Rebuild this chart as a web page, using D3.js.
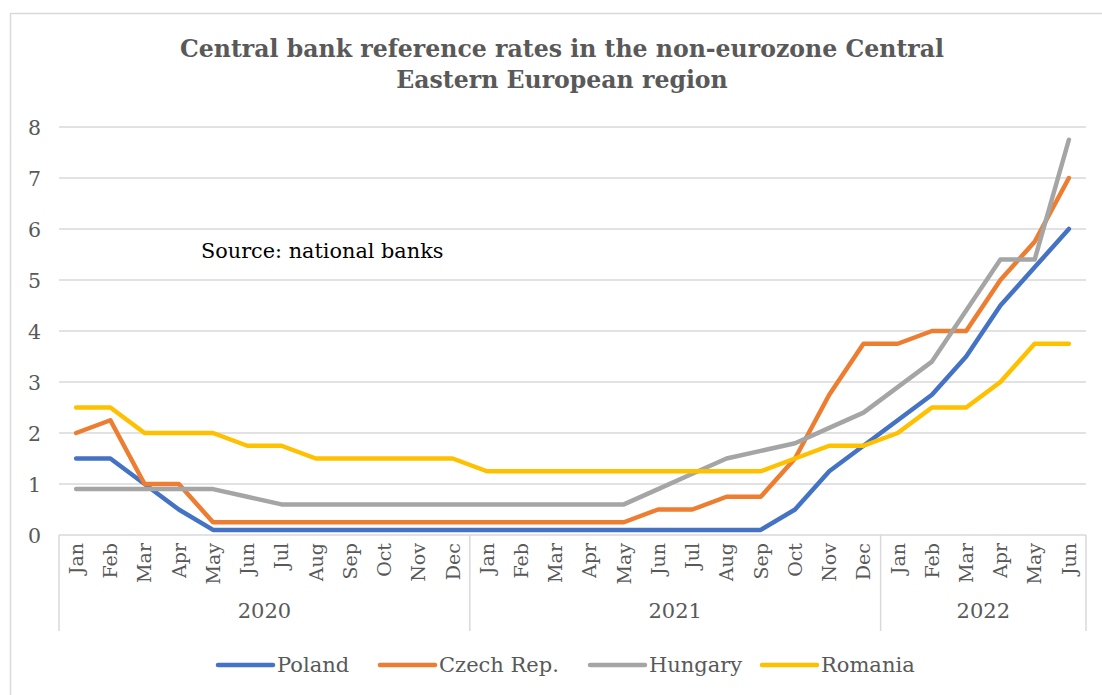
<!DOCTYPE html>
<html>
<head>
<meta charset="utf-8">
<script src="https://cdn.jsdelivr.net/npm/d3@7/dist/d3.min.js"></script>
<style>
  html, body { margin: 0; padding: 0; background: #fff; }
  svg { display: block; }
</style>
</head>
<body>
<div id="chart"></div>
<script>
// Monthly reference rates (%), Jan 2020 – Jun 2022
const months = ["Jan","Feb","Mar","Apr","May","Jun","Jul","Aug","Sep","Oct","Nov","Dec",
                "Jan","Feb","Mar","Apr","May","Jun","Jul","Aug","Sep","Oct","Nov","Dec",
                "Jan","Feb","Mar","Apr","May","Jun"];
const years = ["2020", "2021", "2022"];
const yearSpans = [12, 12, 6];

const poland  = [1.5,1.5,1.0,0.5,0.1,0.1,0.1,0.1,0.1,0.1,0.1,0.1,
                 0.1,0.1,0.1,0.1,0.1,0.1,0.1,0.1,0.1,0.5,1.25,1.75,
                 2.25,2.75,3.5,4.5,5.25,6.0];
const czech   = [2.0,2.25,1.0,1.0,0.25,0.25,0.25,0.25,0.25,0.25,0.25,0.25,
                 0.25,0.25,0.25,0.25,0.25,0.5,0.5,0.75,0.75,1.5,2.75,3.75,
                 3.75,4.0,4.0,5.0,5.75,7.0];
const hungary = [0.9,0.9,0.9,0.9,0.9,0.75,0.6,0.6,0.6,0.6,0.6,0.6,
                 0.6,0.6,0.6,0.6,0.6,0.9,1.2,1.5,1.65,1.8,2.1,2.4,
                 2.9,3.4,4.4,5.4,5.4,7.75];
const romania = [2.5,2.5,2.0,2.0,2.0,1.75,1.75,1.5,1.5,1.5,1.5,1.5,
                 1.25,1.25,1.25,1.25,1.25,1.25,1.25,1.25,1.25,1.5,1.75,1.75,
                 2.0,2.5,2.5,3.0,3.75,3.75];

const seriesNames = ["Poland", "Czech Rep.", "Hungary", "Romania"];
const seriesColors = ["#4472C4", "#ED7D31", "#A5A5A5", "#FFC000"];
const yTicks = [0,1,2,3,4,5,6,7,8];

const series = [poland, czech, hungary, romania].map((v, i) => ({
  name: seriesNames[i], color: seriesColors[i], values: v
}));

const W = 1102, H = 695;
const plot = { left: 59, right: 1086, top: 127, bottom: 535 };
const serif = "'DejaVu Serif', 'Liberation Serif', serif";
const gridColor = "#d9d9d9";
const textColor = "#595959";

const svg = d3.select("#chart").append("svg")
  .attr("width", W).attr("height", H);

// chart-area frame
svg.append("rect")
  .attr("x", 10.5).attr("y", 13.5)
  .attr("width", W).attr("height", H)
  .attr("fill", "#fff").attr("stroke", gridColor).attr("stroke-width", 1.5);

const idx = d3.range(months.length);
const x = d3.scaleBand().domain(idx).range([plot.left, plot.right]).paddingInner(0).paddingOuter(0);
const y = d3.scaleLinear().domain([0, 8]).range([plot.bottom, plot.top]);
const cx = i => x(i) + x.bandwidth() / 2;

// horizontal gridlines
svg.append("g")
  .selectAll("line").data(yTicks.filter(t => t > 0)).join("line")
  .attr("x1", plot.left).attr("x2", plot.right)
  .attr("y1", d => y(d)).attr("y2", d => y(d))
  .attr("stroke", gridColor).attr("stroke-width", 1.5);

// y axis labels
const yAxis = d3.axisLeft(y).tickValues(yTicks).tickSize(0).tickPadding(18).tickFormat(d3.format("d"));
const yg = svg.append("g").attr("transform", `translate(${plot.left},0)`).call(yAxis);
yg.select(".domain").remove();
yg.selectAll("text")
  .attr("font-family", serif).attr("font-size", 20.5).attr("fill", textColor)
  .attr("dy", "0.35em");

// category axis: months
const xAxis = d3.axisBottom(x).tickSize(0).tickPadding(0).tickFormat(i => months[i]);
const xg = svg.append("g").attr("transform", `translate(0,${plot.bottom})`).call(xAxis);
xg.select(".domain").remove();
xg.selectAll("text")
  .attr("font-family", serif).attr("font-size", 19).attr("fill", textColor)
  .attr("text-anchor", "end")
  .attr("transform", "rotate(-90)")
  .attr("x", -8).attr("y", 0).attr("dy", "0.36em");

// axis baseline
svg.append("line")
  .attr("x1", plot.left).attr("x2", plot.right)
  .attr("y1", plot.bottom).attr("y2", plot.bottom)
  .attr("stroke", gridColor).attr("stroke-width", 1.5);

// year group separators and labels
const yearStarts = [0];
yearSpans.forEach((s, i) => yearStarts.push(yearStarts[i] + s));
const sepX = i => (i < months.length ? x(i) : plot.right);
svg.append("g").selectAll("line").data(yearStarts).join("line")
  .attr("x1", d => sepX(d)).attr("x2", d => sepX(d))
  .attr("y1", plot.bottom).attr("y2", 631)
  .attr("stroke", gridColor).attr("stroke-width", 1.5);

svg.append("g").selectAll("text").data(years).join("text")
  .attr("x", (d, i) => (sepX(yearStarts[i]) + sepX(yearStarts[i + 1])) / 2)
  .attr("y", 618)
  .attr("text-anchor", "middle")
  .attr("font-family", serif).attr("font-size", 21).attr("fill", textColor)
  .text(d => d);

// series lines
const line = d3.line().x((d, i) => cx(i)).y(d => y(d));
svg.append("g").selectAll("path").data(series).join("path")
  .attr("d", d => line(d.values))
  .attr("fill", "none")
  .attr("stroke", d => d.color)
  .attr("stroke-width", 4.5)
  .attr("stroke-linejoin", "round")
  .attr("stroke-linecap", "round");

// title
const title = svg.append("text")
  .attr("text-anchor", "middle")
  .attr("font-family", serif).attr("font-weight", "bold")
  .attr("font-size", 23.6).attr("fill", textColor);
title.append("tspan").attr("x", 562).attr("y", 57)
  .text("Central bank reference rates in the non-eurozone Central");
title.append("tspan").attr("x", 562).attr("y", 88)
  .text("Eastern European region");

// source note
svg.append("text")
  .attr("x", 201).attr("y", 258)
  .attr("font-family", serif).attr("font-size", 20.8).attr("fill", "#000")
  .text("Source: national banks");

// legend
const legendX = [218, 380, 590, 762];
const lg = svg.append("g").selectAll("g").data(series).join("g")
  .attr("transform", (d, i) => `translate(${legendX[i]},665)`);
lg.append("line")
  .attr("x1", 0).attr("x2", 55).attr("y1", 0).attr("y2", 0)
  .attr("stroke", d => d.color).attr("stroke-width", 4.5)
  .attr("stroke-linecap", "round");
lg.append("text")
  .attr("x", 59).attr("y", 0).attr("dy", "0.35em")
  .attr("font-family", serif).attr("font-size", 21).attr("fill", textColor)
  .text(d => d.name);
</script>
</body>
</html>
